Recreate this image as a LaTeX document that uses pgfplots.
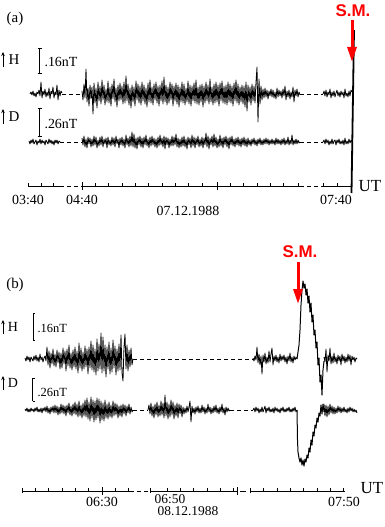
\documentclass[border=0pt]{standalone}
\usepackage{pgfplots}
\pgfplotsset{compat=1.18}
\usepackage{pgfplotstable}
\usetikzlibrary{arrows.meta}
\usepackage{fontspec}
\setmainfont{Liberation Serif}
\newfontfamily\smfont{Liberation Sans}
\newcommand{\readtrace}[2]{\pgfplotstableread[header=false,row sep=crcr]{#2\\}\tmptab\pgfplotstabletranspose#1{\tmptab}}
% panel (a) H
\readtrace{\aHa}{0 2 -1 3 -2 1 -3 2 0 4 -2 12 -4 3 -1 5 -3 2 -2 6 -5 3 0 7 -4 2 -1 9 -6 4 -2 3 1}
\readtrace{\aHb}{3 -6 10 -4 25 -8 6 -12 9 -5 7 -20 11 -9 6 -14 12 -7 8 -10 14 -6 9 -11 5 -8 13 -9 7 -12 10 -5 15 -8 6 -13 9 -7 11 -6 8 -10 12 -9 18 -7 10 -11 6 -14 9 -8 7 -12 13 -6 10 -9 8 -11 12 -7 9 -10 6 -13 11 -8 14 -9 7 -11 10 -6 12 -9 8 -12 9 -7 13 -10 17 -8 9 -11 7 -9 12 -6 10 -12 8 -7 11 -10 9 -13 7 -8 12 -9 10 -11 6 -8 13 -10 9 -12 8 -7 11 -9 14 -10 7 -11 9 -8 10 -13 8 -9 12 -7 9 -10 15 -8 7 -11 10 -9 12 -8 9 -12 11 -7 13 -9 8 -10 9 -11 12 -8 10 -9 8 -12 11 -7 14 -9 10 -11 7 -8 9 -10 8 -13 12 -17 9 -8 7 -11 10 -7 8 -9 12 27 -28 15 -10 8 -6 5 -4 6 -3 4 -5 3 -2 5 -3 4 -4 2 -5 6 -3 4 -2 3 -4 5 -2 8 -6 3 -3 4 -5 2 -3 7 -8 4 -2 5 -3 2 -1}
\readtrace{\aHc}{0 3 -2 4 -3 2 -1 5 -4 2 -2 3 -3 1 4 -2 2 -3 3 -1 2 -4 5 -2 1 -3 3 -2 4 2}
% panel (a) D
\readtrace{\aDa}{1 -2 2 -1 3 -2 0 2 -3 1 -1 3 -2 2 -1 1 -3 2 0 -2 3 -1 2 -2 1 -3 2 -1 2 -2 1 0}
\readtrace{\aDb}{4 -3 6 -5 3 -6 5 -2 4 -5 3 -4 6 -3 5 -6 2 -4 5 -3 6 -5 3 -2 4 -6 5 -3 2 -4 5 -3 4 -5 6 -2 3 -6 4 -3 5 -4 3 -6 7 -3 4 -5 6 -4 10 -5 8 -6 4 -7 5 -3 6 -5 4 -6 5 -3 7 -4 3 -6 5 -4 6 -3 4 -5 3 -6 5 -4 7 -3 4 -5 6 -7 5 -3 4 -6 3 -4 6 -4 5 -3 8 -5 4 -6 3 -5 5 -4 6 -5 3 -7 5 -3 4 -6 7 -4 5 -6 4 -3 6 -5 3 -4 5 -6 4 -3 9 -5 6 -7 4 -3 6 -5 8 -4 5 -6 3 -5 7 -4 4 -6 5 -3 6 -5 4 -7 5 -3 6 -4 3 -5 4 -3 5 -4 3 -5 4 -3 5 -4 3 -5 4 -3 2 -4 3 -2 4 -3 2 -4 3 -2 4 -3 2 -3 3 -2 4 -2 3 -3 2 -2 3 -2 2 -3 4 -2 3 -2 2 -3 3 -2 4 -3 2 -2 5 -3 2 -2 7 -3 2 -2 3 -2 2 -1 0}
\readtrace{\aDc}{0 2 -2 3 -1 2 -3 1 -2 3 -2 1 2 -3 2 -1 3 -2 1 -2 2 -3 4 -2 1 -2 3 -1 2 0}
% panel (b) H
\readtrace{\bHa}{1 -2 3 -1 2 -3 2 0 -2 3 -1 4 -2 2 -3 5 -1 2 -3 1 3 -2 12 -6 8 -9 6 -5 10 -7 5 -8 9 -4 7 -10 6 -9 11 -5 8 -12 10 -7 14 -9 6 -11 9 -8 12 -10 8 -14 16 -9 11 -12 7 -10 13 -8 10 -15 12 -9 18 -11 14 -13 10 -16 20 -12 15 -10 26 -14 22 -12 14 -18 12 -10 17 -15 11 -13 19 -9 13 -16 10 -12 15 -11 24 -14 -22 12 25 -10 14 -12 9 -8 11 -6 0}
\readtrace{\bHb}{1 -2 3 -1 12 -4 5 -6 3 -15 4 -3 6 -5 2 -4 8 -3 5 11 -6 3 -2 4 -3 2 -4 5 -2 3 -1 4 -3 2 -5 3 -2 6 -3 2 -4 3 -1 2 0}
\readtrace{\bHc}{2 -3 10 -13 4 -2 11 -5 3 -4 6 -3 2 -5 4 -2 3 -6 5 -2 3 -4 2 -3 5 -2 4 -6 3 -1 2 -3 1 0}
% panel (b) D
\readtrace{\bDa}{1 -1 2 -2 1 -2 2 -1 1 -2 2 -1 3 -2 1 -2 2 -3 2 -1 3 -2 4 -3 2 -4 3 -2 4 -3 5 -3 4 -5 3 -4 6 -3 5 -4 4 -6 5 -3 7 -5 4 -6 6 -4 8 -5 6 -7 9 -6 5 -8 7 -6 10 -7 12 -9 8 -11 13 -8 10 -12 9 -10 12 -8 11 -13 9 -10 7 -11 10 -8 6 -9 8 -7 5 -8 9 -6 7 -5 6 -8 4 -6 5 -7 6 -4 5 -6 4 -3 6 -4 3 -2 0}
\readtrace{\bDb}{0 5 -4 7 -6 4 -8 6 -5 8 -7 5 -6 9 -5 7 -8 15 -6 8 -9 6 -7 10 -5 8 -9 5 -6 7 -8 6 -4 5 -7 3 -4 2 -3 4 -2 3 9 -12 4 -3 2 -4 3 -2 4 -3 2 -3 5 -2 3 -4 2 -3 6 -2 3 -4 2 -3 4 -2 5 -3 2 -4 3 -2 6 -3 2 -5 3 -2 2 -1 0}
\readtrace{\bDc}{0 2 -2 3 -1 2 -3 1 -2 3 -2 1 4 -3 2 -1 3 -2 1 -2 2 -3 3 -1 2 -2 1 -3 2 -1 3 -2 1 -2 2 -1 3 -2 1 -2 2 -1 3 -2 0}
\readtrace{\bDd}{6 -6 5 -7 4 -5 6 -3 4 -4 3 -4 2 -3 4 -2 3 -3 2 -2 3 -2 1 -3 2 -2 3 -1 2 -2 1 -2 0 -3}
\begin{document}
\begin{tikzpicture}
\begin{axis}[width=385bp, height=527bp, scale only axis,
  xmin=0, xmax=385, ymin=0, ymax=527, y dir=reverse,
  axis lines=none, clip=false,
  trace/.style={black, line width=0.8bp, no marks, line join=round},
  dsh/.style={black, line width=0.7bp, no marks, dash pattern=on 4bp off 3bp}]
% ---------- panel (a)
\addplot[trace] table[x expr=\coordindex+30, y expr=94-\thisrowno{1}] {\aHa};
\addplot[dsh] coordinates {(62,94)(82,94)};
\addplot[trace] table[x expr=\coordindex+82, y expr=94-\thisrowno{1}] {\aHb};
\addplot[dsh] coordinates {(300,94)(323,94)};
\addplot[trace] table[x expr=\coordindex+323, y expr=94-\thisrowno{1}] {\aHc};
\addplot[trace] table[x expr=\coordindex+29, y expr=142-\thisrowno{1}] {\aDa};
\addplot[dsh] coordinates {(60,142)(82,142)};
\addplot[trace] table[x expr=\coordindex+82, y expr=142-\thisrowno{1}] {\aDb};
\addplot[dsh] coordinates {(300,142)(323,142)};
\addplot[trace] table[x expr=\coordindex+323, y expr=142-\thisrowno{1}] {\aDc};
\addplot[black, line width=1.8bp, no marks] coordinates {(351.5,193)(354,30)};
% time axis (a)
\draw[line width=0.7bp] (28,186)--(60,186) (82,186)--(300,186) (322,186)--(352,186);
\draw[line width=0.7bp, dash pattern=on 4bp off 3bp] (60,186)--(82,186) (300,186)--(322,186);
\draw[line width=0.7bp] (28,186)--(28,183) (41,186)--(41,183) (53,186)--(53,183)
  (82,190)--(82,182) (95,186)--(95,183) (108,186)--(108,183) (122,186)--(122,183)
  (135,186)--(135,183) (148,186)--(148,183) (162,186)--(162,183) (175,186)--(175,183)
  (188,186)--(188,183) (202,186)--(202,183) (217,190)--(217,182) (230,186)--(230,183)
  (243,186)--(243,183) (257,186)--(257,183) (270,186)--(270,183) (283,186)--(283,183)
  (298,186)--(298,183) (323,186)--(323,183) (337,186)--(337,183);
\node[font=\fontsize{14}{16}\selectfont] at (28,200) {03:40};
\node[font=\fontsize{14}{16}\selectfont] at (82,200) {04:40};
\node[font=\fontsize{14}{16}\selectfont] at (336,200) {07:40};
\node[font=\fontsize{14}{16}\selectfont] at (188,211) {07.12.1988};
\node[font=\fontsize{17}{19}\selectfont] at (370,186) {UT};
% labels (a)
\node[font=\fontsize{15}{17}\selectfont] at (15,19) {(a)};
\draw[line width=0.8bp, -{Stealth[length=4bp,width=3.5bp]}] (3,67)--(3,52);
\node[font=\fontsize{15}{17}\selectfont] at (14,60) {H};
\draw[line width=0.8bp, -{Stealth[length=4bp,width=3.5bp]}] (3,124)--(3,109);
\node[font=\fontsize{15}{17}\selectfont] at (14,117) {D};
\draw[line width=0.8bp] (39.5,48)--(39.5,73) (37.5,48)--(41.5,48) (37.5,73)--(41.5,73);
\node[font=\fontsize{14}{16}\selectfont, anchor=west] at (41,62) {.16nT};
\draw[line width=0.8bp] (39.5,108)--(39.5,136) (37.5,108)--(41.5,108) (37.5,136)--(41.5,136);
\node[font=\fontsize{14}{16}\selectfont, anchor=west] at (41,124) {.26nT};
\draw[red, line width=3bp, -{Triangle[length=15bp,width=9bp]}] (352,20)--(352,62);
\node[red, font=\smfont\bfseries\fontsize{17}{19}\selectfont] at (353,11) {S.M.};
% ---------- panel (b)
\addplot[trace] table[x expr=\coordindex+25, y expr=359-\thisrowno{1}] {\bHa};
\addplot[dsh] coordinates {(133,359)(253,359)};
\addplot[trace] table[x expr=\coordindex+253, y expr=359-\thisrowno{1}] {\bHb};
\addplot[trace, line width=1bp] coordinates {(297,359)(298,352)(299,345)(300,330)(301,305)(302,290)(303,281)(304,288)(305,284)(306,295)(307,289)(308,303)(309,296)(310,312)(311,303)(312,322)(313,315)(314,335)(315,330)(316,348)(317,342)(318,365)(319,358)(320,382)(321,375)(322,395)(323,370)(324,361)};
\addplot[trace] table[x expr=\coordindex+324, y expr=359-\thisrowno{1}] {\bHc};
\addplot[trace] table[x expr=\coordindex+25, y expr=410-\thisrowno{1}] {\bDa};
\addplot[dsh] coordinates {(133,410)(148,410)};
\addplot[trace] table[x expr=\coordindex+148, y expr=410-\thisrowno{1}] {\bDb};
\addplot[dsh] coordinates {(230,410)(253,410)};
\addplot[trace] table[x expr=\coordindex+253, y expr=410-\thisrowno{1}] {\bDc};
\addplot[trace, line width=1bp] coordinates {(297,410)(297.5,440)(298,452)(299,458)(300,462)(301,458)(302,465)(303,460)(304,466)(305,459)(306,462)(307,455)(308,458)(309,448)(310,452)(311,440)(312,445)(313,432)(314,436)(315,425)(316,428)(317,418)(318,422)(319,413)(320,416)(321,405)(322,414)(323,404)(324,412)};
\addplot[trace] table[x expr=\coordindex+324, y expr=410-\thisrowno{1}] {\bDd};
% time axis (b)
\draw[line width=0.7bp] (22,491)--(130,491) (150,491)--(237,491) (250,491)--(345,491) (240,491)--(246,491);
\draw[line width=0.7bp, dash pattern=on 4bp off 3bp] (130,491)--(150,491);
\draw[line width=0.7bp] (22,493)--(22,488) (35,491)--(35,488) (48,491)--(48,488) (62,491)--(62,488)
  (75,491)--(75,488) (88,491)--(88,488) (102,495)--(102,487) (115,491)--(115,488) (128,491)--(128,488)
  (150,493)--(150,488) (167,491)--(167,488) (180,491)--(180,488) (193,491)--(193,488) (207,491)--(207,488)
  (220,491)--(220,488) (233,491)--(233,488) (237,495)--(237,487)
  (250,493)--(250,488) (263,491)--(263,488) (277,491)--(277,488) (290,491)--(290,488) (303,491)--(303,488)
  (317,491)--(317,488) (330,491)--(330,488) (343,491)--(343,488);
\node[font=\fontsize{14}{16}\selectfont] at (102,502) {06:30};
\node[font=\fontsize{13.5}{15}\selectfont, inner sep=0pt] at (170,499) {06:50};
\node[font=\fontsize{13.5}{15}\selectfont, inner sep=0pt] at (188,511.5) {08.12.1988};
\node[font=\fontsize{14}{16}\selectfont] at (344,502) {07:50};
\node[font=\fontsize{17}{19}\selectfont] at (372,488) {UT};
% labels (b)
\node[font=\fontsize{15}{17}\selectfont] at (15,285) {(b)};
\draw[line width=0.8bp, -{Stealth[length=4bp,width=3.5bp]}] (3,334)--(3,320);
\node[font=\fontsize{14}{16}\selectfont] at (13,327) {H};
\draw[line width=0.8bp, -{Stealth[length=4bp,width=3.5bp]}] (3,390)--(3,376);
\node[font=\fontsize{14}{16}\selectfont] at (13,383) {D};
\draw[line width=0.8bp] (33,313)--(33,340) (33,313)--(35,313) (33,340)--(35,340);
\node[font=\fontsize{12.5}{14}\selectfont, anchor=west] at (34,328) {.16nT};
\draw[line width=0.8bp] (32.5,378)--(32.5,401) (32.5,378)--(34.5,378) (32.5,401)--(34.5,401);
\node[font=\fontsize{12.5}{14}\selectfont, anchor=west] at (34,392) {.26nT};
\draw[red, line width=3bp, -{Triangle[length=15bp,width=9bp]}] (298,262)--(298,304);
\node[red, font=\smfont\bfseries\fontsize{17}{19}\selectfont] at (300,252) {S.M.};
\end{axis}
\pgfresetboundingbox
\path (current axis.south west) rectangle (current axis.north east);
\end{tikzpicture}
\end{document}
